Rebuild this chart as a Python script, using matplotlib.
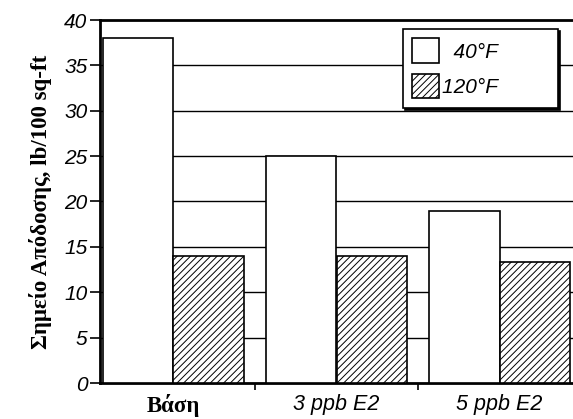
"""Yield point of the base fluid and the E2 blends at two temperatures."""

import matplotlib

matplotlib.use("Agg")
import matplotlib.pyplot as plt
import numpy as np
from matplotlib.patches import Patch

categories = ["Βάση", "3 ppb E2", "5 ppb E2"]
yield_40f = [38, 25, 19]
yield_120f = [14, 14, 13.3]
series_labels = ["  40°F         ", "120°F         "]
y_ticks = [0, 5, 10, 15, 20, 25, 30, 35, 40]

plt.rcParams["hatch.linewidth"] = 0.7
plt.rcParams["hatch.color"] = "black"

fig = plt.figure(figsize=(5.73, 4.19), dpi=100)
ax = fig.add_axes([100 / 573, 36 / 419, 473 / 573, 363 / 419])

x = np.arange(len(categories))
width = 0.43
ax.bar(x - width / 2, yield_40f, width, color="white", edgecolor="black",
       linewidth=1.2, zorder=3)
ax.bar(x + width / 2, yield_120f, width, color="white", edgecolor="black",
       linewidth=1.2, hatch="/////", zorder=3)

ax.set_xlim(-0.45, 2.45)
ax.set_ylim(0, 40)
ax.set_yticks(y_ticks)
for level in y_ticks[1:-1]:
    ax.axhline(level, color="black", linewidth=1.0, zorder=1)

ax.set_xticks(x)
ax.set_xticks([0.5, 1.5], minor=True)
ax.tick_params(axis="x", which="major", length=0, pad=8)
ax.tick_params(axis="x", which="minor", length=5, width=1.2, direction="out")
ax.tick_params(axis="y", length=7, width=1.2, direction="out", pad=2)

ax.set_xticklabels(categories)
for label in ax.get_xticklabels():
    if label.get_text() == "Βάση":
        label.set_fontfamily("Liberation Serif")
        label.set_fontweight("bold")
        label.set_fontsize(16.5)
    else:
        label.set_fontfamily("Liberation Sans")
        label.set_fontstyle("italic")
        label.set_fontsize(15.5)

ax.set_yticklabels([str(v) for v in y_ticks], fontfamily="Liberation Sans",
                   fontstyle="italic", fontsize=15)

ax.set_ylabel("Σημείο Απόδοσης, lb/100 sq-ft", fontfamily="Liberation Serif",
              fontweight="bold", fontsize=16.5, labelpad=9)

for side in ("left", "bottom", "top"):
    ax.spines[side].set_linewidth(2.0)
ax.spines["right"].set_visible(False)

handles = [
    Patch(facecolor="white", edgecolor="black", linewidth=1.2),
    Patch(facecolor="white", edgecolor="black", linewidth=1.2, hatch="/////"),
]
legend = ax.legend(
    handles, series_labels,
    loc="upper left", bbox_to_anchor=(403 / 573, 1 - 29 / 419),
    bbox_transform=fig.transFigure,
    prop={"family": "Liberation Sans", "style": "italic", "size": 15},
    handlelength=1.3, handleheight=1.45, handletextpad=0.1,
    borderpad=0.45, labelspacing=0.5, borderaxespad=0,
    fancybox=False, framealpha=1, edgecolor="black",
    shadow={"color": "black", "alpha": 1, "ox": 1.5, "oy": -1.5},
)
legend.get_frame().set_linewidth(1.2)
legend.set_zorder(5)

fig.savefig("out.png", dpi=100, facecolor="white")
